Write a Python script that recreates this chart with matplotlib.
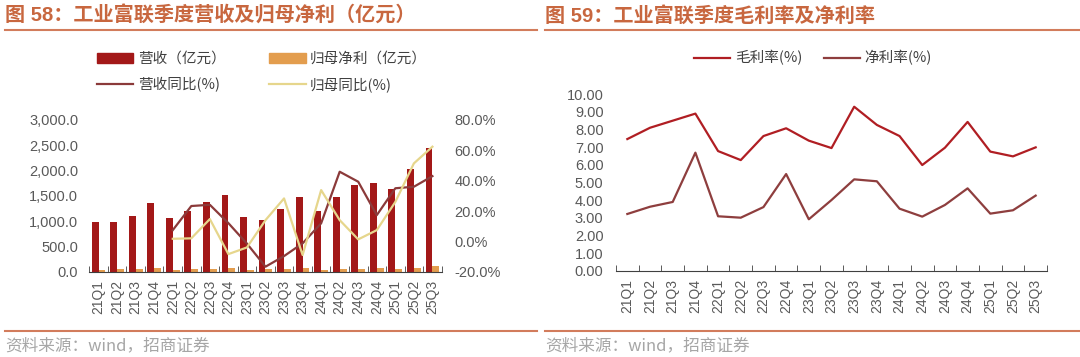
import numpy as np
import matplotlib
matplotlib.use("Agg")
import matplotlib.pyplot as plt
from matplotlib.lines import Line2D
from matplotlib.patches import Patch
from matplotlib.ticker import FuncFormatter

quarters = ["21Q1", "21Q2", "21Q3", "21Q4", "22Q1", "22Q2", "22Q3", "22Q4",
            "23Q1", "23Q2", "23Q3", "23Q4", "24Q1", "24Q2", "24Q3", "24Q4",
            "25Q1", "25Q2", "25Q3"]

# 营收 / 归母净利 (亿元)
revenue = [990, 976, 1108, 1352, 1061, 1207, 1371, 1516, 1075, 1022, 1233, 1483,
           1200, 1483, 1714, 1747, 1628, 2024, 2453]
net_profit = [35, 47, 51, 75, 41, 47, 55, 70, 33, 46, 53, 78, 42, 45, 63, 83, 52, 69, 103]

# 同比 (%)
nan = np.nan
revenue_yoy = [nan, nan, nan, nan, 7.4, 23.3, 24.1, 12.0, -1.5, -16.7, -9.7, -1.3,
               11.9, 45.9, 39.3, 17.3, 35.0, 36.0, 43.0]
profit_yoy = [nan, nan, nan, nan, 1.7, 2.0, 14.7, -8.4, -4.0, 14.0, 28.3, -9.0,
              33.8, 14.0, 1.3, 7.4, 26.0, 51.4, 62.4]

# 毛利率 / 净利率 (%)
gross_margin = [7.45, 8.09, 8.49, 8.89, 6.77, 6.26, 7.62, 8.06, 7.36, 6.94, 9.28, 8.25,
                7.62, 5.98, 6.96, 8.42, 6.74, 6.47, 6.98]
net_margin = [3.21, 3.62, 3.89, 6.68, 3.08, 3.00, 3.60, 5.47, 2.91, 4.00, 5.17, 5.06,
              3.51, 3.06, 3.72, 4.66, 3.23, 3.42, 4.25]

cjk = ["Noto Sans CJK SC", "DejaVu Sans"]
num = ["Liberation Sans", "Noto Sans CJK SC"]
plt.rcParams["font.family"] = num

title_col = "#C8673F"
rule_col = "#D27C5C"
tick_col = "#595959"
axis_col = "#404040"

W, H = 1080, 357
fig = plt.figure(figsize=(W / 100, H / 100), dpi=100)


def fx(px):
    return px / W


def fy(py):
    return 1 - py / H


# headers, rules and sources
for x0, x1, title in [(5, 537, "图 58：工业富联季度营收及归母净利（亿元）"),
                      (545, 1080, "图 59：工业富联季度毛利率及净利率")]:
    fig.text(fx(x0), fy(16), title, fontsize=14.5, fontweight="bold", color=title_col,
             va="center", ha="left", family=num)
    fig.add_artist(Line2D([fx(x0), fx(x1)], [fy(30), fy(30)], color=rule_col, lw=1.5))
    fig.add_artist(Line2D([fx(x0), fx(x1)], [fy(331), fy(331)], color=rule_col, lw=1.5))
    fig.text(fx(x0), fy(346), "资料来源：wind，招商证券", fontsize=12, color="#A6A6A6",
             va="center", ha="left", family=cjk)

x = np.arange(len(quarters))


def style_x(ax):
    for s in ["top", "left", "right"]:
        ax.spines[s].set_visible(False)
    ax.spines["bottom"].set_color(axis_col)
    ax.set_xlim(-0.5, len(quarters) - 0.5)
    ax.set_xticks(x)
    ax.set_xticklabels(quarters, rotation=90, fontsize=10, color=tick_col)
    ax.set_xticks(np.arange(-0.5, len(quarters), 1), minor=True)
    ax.tick_params(axis="x", which="major", length=0, pad=6)
    ax.tick_params(axis="x", which="minor", direction="in", length=4, color=axis_col)
    ax.tick_params(axis="y", length=0, labelsize=10.5, labelcolor=tick_col)


# left chart
ax1 = fig.add_axes([fx(89.3), fy(271.7), fx(441.7 - 89.3), (271.7 - 120) / H])
w = 0.37
ax1.bar(x - w / 2, revenue, width=w, color="#A31818", zorder=2)
ax1.bar(x + w / 2, net_profit, width=w, color="#E39D4E", zorder=2)
ax1.set_ylim(0, 3000)
ax1.set_yticks(np.arange(0, 3001, 500))
ax1.yaxis.set_major_formatter(FuncFormatter(lambda v, p: f"{v:,.1f}"))
style_x(ax1)
ax1.tick_params(axis="y", pad=8)

ax2 = ax1.twinx()
ax2.plot(x, revenue_yoy, color="#8B3A3A", lw=1.6, zorder=3)
ax2.plot(x, profit_yoy, color="#E6D68C", lw=1.6, zorder=3)
ax2.set_ylim(-20, 80)
ax2.set_yticks(np.arange(-20, 81, 20))
ax2.yaxis.set_major_formatter(FuncFormatter(lambda v, p: f"{v:.1f}%"))
for s in ["top", "left", "right", "bottom"]:
    ax2.spines[s].set_visible(False)
ax2.tick_params(axis="y", length=0, labelsize=10.5, labelcolor=tick_col, pad=9)

handles = [Patch(color="#A31818"), Line2D([], [], color="#8B3A3A", lw=1.6),
           Patch(color="#E39D4E"), Line2D([], [], color="#E6D68C", lw=1.6)]
labels = ["营收（亿元）", "营收同比(%)", "归母净利（亿元）", "归母同比(%)"]
leg = fig.legend(handles, labels, ncol=2, loc="center", bbox_to_anchor=(fx(262), fy(72)),
                 frameon=False, handlelength=2.5, handleheight=0.6, columnspacing=3.0,
                 labelspacing=0.75, handletextpad=0.3,
                 prop={"family": cjk, "size": 10.5})
for t in leg.get_texts():
    t.set_color("#404040")

# right chart
ax3 = fig.add_axes([fx(616), fy(270.7), fx(1047 - 616), (270.7 - 94) / H])
ax3.plot(x, gross_margin, color="#B01E23", lw=1.6, label="毛利率(%)")
ax3.plot(x, net_margin, color="#8E3E3E", lw=1.6, label="净利率(%)")
ax3.set_ylim(0, 10)
ax3.set_yticks(np.arange(0, 10.01, 1))
ax3.yaxis.set_major_formatter(FuncFormatter(lambda v, p: f"{v:.2f}"))
style_x(ax3)
ax3.tick_params(axis="y", pad=9)
leg2 = fig.legend(*ax3.get_legend_handles_labels(), ncol=2, loc="center",
                  bbox_to_anchor=(fx(813), fy(58)), frameon=False, handlelength=2.5,
                  columnspacing=1.5, handletextpad=0.3,
                  prop={"family": cjk, "size": 10.5})
for t in leg2.get_texts():
    t.set_color("#404040")

fig.savefig("out.png", dpi=100)
